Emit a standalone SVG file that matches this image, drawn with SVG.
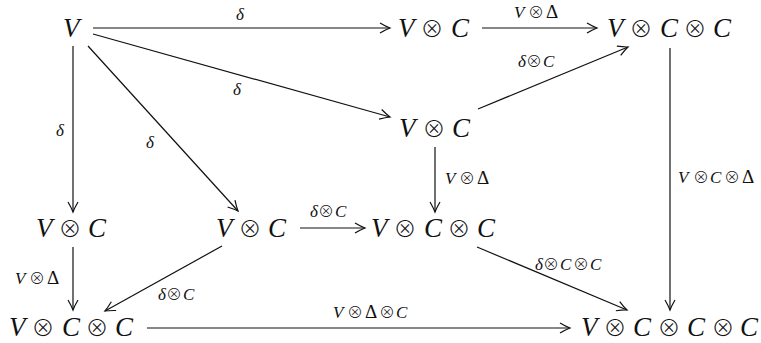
<svg xmlns="http://www.w3.org/2000/svg" width="761" height="343" viewBox="0 0 761 343">
<defs>
<marker id="ah" markerUnits="userSpaceOnUse" markerWidth="20" markerHeight="20" viewBox="-12 -10 14 20" refX="0" refY="0" orient="auto">
<path d="M-10,-5 Q-4,-1.5 0,0 Q-4,1.5 -10,5" fill="none" stroke="#111" stroke-width="1.2"/>
</marker>
<style>
.n{font-family:"Liberation Serif","Times New Roman",serif;font-size:27px;fill:#111;font-style:italic}
.n .o{font-size:23px}
.l{font-family:"Liberation Serif","Times New Roman",serif;font-size:17px;fill:#111}
.l .o{font-size:16px}
.l .d{font-size:19px}
.i{font-style:italic}
.o{font-family:"Noto Sans CJK JP","DejaVu Sans",sans-serif;font-weight:300;font-style:normal;text-anchor:middle}
.e line{stroke:#111;stroke-width:1.2;marker-end:url(#ah)}
</style>
</defs>
<rect width="761" height="343" fill="#fff"/>
<g id="nodes">
<g id="n1"><text class="n" x="63" y="37">V</text></g>
<g id="n2"><text class="n" y="37"><tspan x="398">V</tspan><tspan class="o" x="432">⊗</tspan><tspan x="451">C</tspan></text></g>
<g id="n3"><text class="n" y="37"><tspan x="607">V</tspan><tspan class="o" x="641">⊗</tspan><tspan x="660">C</tspan><tspan class="o" x="695">⊗</tspan><tspan x="713">C</tspan></text></g>
<g id="n4"><text class="n" y="137"><tspan x="399">V</tspan><tspan class="o" x="434">⊗</tspan><tspan x="452">C</tspan></text></g>
<g id="n5"><text class="n" y="237"><tspan x="36">V</tspan><tspan class="o" x="70">⊗</tspan><tspan x="88">C</tspan></text></g>
<g id="n6"><text class="n" y="237"><tspan x="216">V</tspan><tspan class="o" x="250">⊗</tspan><tspan x="268">C</tspan></text></g>
<g id="n7"><text class="n" y="237"><tspan x="371">V</tspan><tspan class="o" x="405">⊗</tspan><tspan x="424">C</tspan><tspan class="o" x="459">⊗</tspan><tspan x="477">C</tspan></text></g>
<g id="n8"><text class="n" y="336"><tspan x="9">V</tspan><tspan class="o" x="43">⊗</tspan><tspan x="62">C</tspan><tspan class="o" x="97">⊗</tspan><tspan x="115">C</tspan></text></g>
<g id="n9"><text class="n" y="336"><tspan x="581">V</tspan><tspan class="o" x="615">⊗</tspan><tspan x="633">C</tspan><tspan class="o" x="669">⊗</tspan><tspan x="687">C</tspan><tspan class="o" x="723">⊗</tspan><tspan x="740">C</tspan></text></g>
</g>
<g id="connectors" class="e">
<line x1="93" y1="28" x2="390" y2="28"/>
<line x1="482" y1="28" x2="597" y2="28"/>
<line x1="93" y1="34" x2="390" y2="117"/>
<line x1="478" y1="109" x2="628" y2="47"/>
<line x1="73" y1="46" x2="73" y2="212"/>
<line x1="88" y1="46" x2="238" y2="211"/>
<line x1="300" y1="228" x2="365" y2="228"/>
<line x1="435" y1="147" x2="435" y2="212"/>
<line x1="670" y1="48" x2="670" y2="310"/>
<line x1="73" y1="247" x2="73" y2="310"/>
<line x1="222" y1="246" x2="105" y2="311"/>
<line x1="477" y1="247" x2="627" y2="310"/>
<line x1="147" y1="328" x2="570" y2="328"/>
</g>
<g id="labels">
<text class="l i" x="236" y="20">δ</text>
<text class="l" y="18"><tspan class="i" x="514">V</tspan><tspan class="o" x="536">⊗</tspan><tspan class="d" x="546">Δ</tspan></text>
<text class="l i" x="233" y="95">δ</text>
<text class="l" y="67"><tspan class="i" x="518">δ</tspan><tspan class="o" x="534">⊗</tspan><tspan class="i" x="543">C</tspan></text>
<text class="l i" x="56" y="136">δ</text>
<text class="l i" x="146" y="148">δ</text>
<text class="l" y="217"><tspan class="i" x="310">δ</tspan><tspan class="o" x="326">⊗</tspan><tspan class="i" x="335">C</tspan></text>
<text class="l" y="184"><tspan class="i" x="445">V</tspan><tspan class="o" x="467">⊗</tspan><tspan class="d" x="477">Δ</tspan></text>
<text class="l" y="183"><tspan class="i" x="678">V</tspan><tspan class="o" x="701">⊗</tspan><tspan class="i" x="710">C</tspan><tspan class="o" x="732">⊗</tspan><tspan class="d" x="742">Δ</tspan></text>
<text class="l" y="284"><tspan class="i" x="15">V</tspan><tspan class="o" x="37">⊗</tspan><tspan class="d" x="47">Δ</tspan></text>
<text class="l" y="300"><tspan class="i" x="158">δ</tspan><tspan class="o" x="174">⊗</tspan><tspan class="i" x="183">C</tspan></text>
<text class="l" y="270"><tspan class="i" x="535">δ</tspan><tspan class="o" x="551">⊗</tspan><tspan class="i" x="560">C</tspan><tspan class="o" x="581">⊗</tspan><tspan class="i" x="590">C</tspan></text>
<text class="l" y="318"><tspan class="i" x="333">V</tspan><tspan class="o" x="355">⊗</tspan><tspan class="d" x="365">Δ</tspan><tspan class="o" x="387">⊗</tspan><tspan class="i" x="396">C</tspan></text>
</g>
</svg>
